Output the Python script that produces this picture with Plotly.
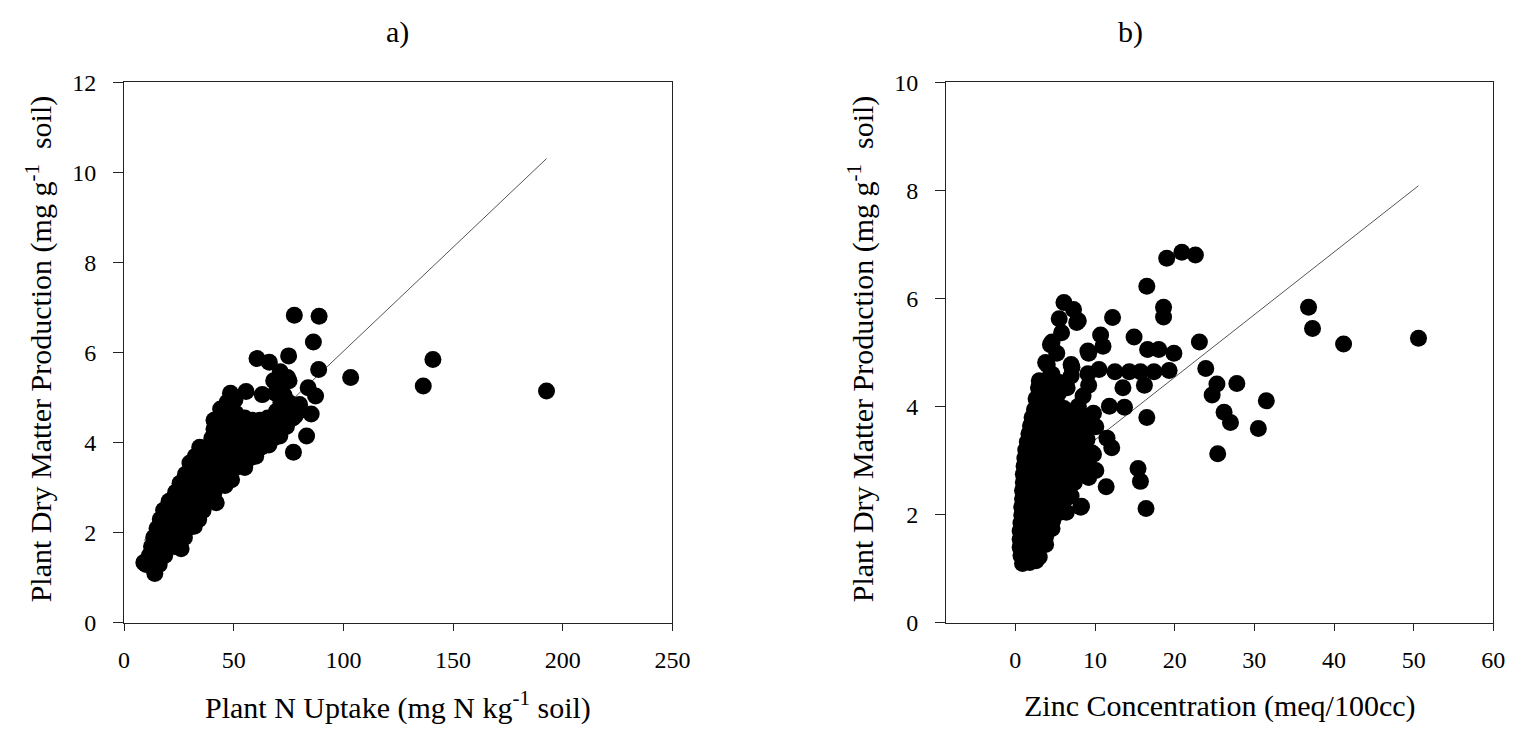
import plotly.graph_objects as go

# ---------------- Panel a: Plant N uptake vs dry matter ----------------
n_uptake = [
    14,
    10, 13, 16, 9,
    11.5, 15, 18.5,
    12.5, 16, 19.5, 23, 26,
    13.5, 17, 20.5, 24, 27.5,
    15, 18.5, 22, 25.5, 29, 32,
    16.5, 20, 23.5, 27, 30.5, 34,
    18, 21.5, 25, 28.5, 32, 36,
    20.5, 24, 27.5, 31, 34.5, 38, 42,
    23.5, 27, 30.5, 34, 37.5, 41,
    25.5, 29, 32.5, 36, 39.5, 43, 46,
    28, 31.5, 35, 38.5, 42, 45.5, 49,
    30, 33.5, 37, 40.5, 44, 47.5, 51, 55,
    32.5, 36, 39.5, 43, 46.5, 50, 53.5, 57, 60,
    34.5, 38, 41.5, 45, 48.5, 52, 55.5, 59, 62.5, 66,
    40, 43.5, 47, 50.5, 54, 57.5, 61, 64.5, 68, 71,
    41, 44.5, 48, 51.5, 55, 58.5, 62, 65.5, 69, 74,
    41, 44.5, 48, 51.5, 55, 58.5, 62, 65.5, 70, 73.5, 77,
    44, 47.5, 51, 69.5, 73, 76, 79.5,
    47, 50.5, 71.5, 75,
    48.5, 55.6, 63, 69, 73,
    60.6, 66.2, 68.2, 71.2, 75, 70, 74.5, 75.2,
    77.6, 88.9, 86.3, 88.7, 77.2, 83.2, 85.3, 87.3, 83.9, 80, 78,
    103.3, 136.4, 140.8, 192.6,
]
dm_a = [
    1.1,
    1.3, 1.3, 1.3, 1.34,
    1.5, 1.5, 1.5,
    1.7, 1.7, 1.7, 1.7, 1.65,
    1.9, 1.9, 1.9, 1.9, 1.9,
    2.1, 2.1, 2.1, 2.1, 2.1, 2.15,
    2.3, 2.3, 2.3, 2.3, 2.3, 2.3,
    2.5, 2.5, 2.5, 2.5, 2.5, 2.5,
    2.7, 2.7, 2.7, 2.7, 2.7, 2.7, 2.67,
    2.9, 2.9, 2.9, 2.9, 2.9, 2.9,
    3.1, 3.1, 3.1, 3.1, 3.1, 3.1, 3.05,
    3.3, 3.3, 3.3, 3.3, 3.3, 3.3, 3.18,
    3.55, 3.5, 3.5, 3.5, 3.5, 3.5, 3.45, 3.45,
    3.7, 3.7, 3.7, 3.7, 3.7, 3.7, 3.7, 3.65, 3.7,
    3.9, 3.9, 3.9, 3.9, 3.9, 3.9, 3.9, 3.9, 3.9, 3.95,
    4.1, 4.1, 4.1, 4.1, 4.1, 4.1, 4.1, 4.1, 4.1, 4.15,
    4.3, 4.3, 4.3, 4.3, 4.3, 4.3, 4.3, 4.3, 4.3, 4.36,
    4.5, 4.5, 4.5, 4.55, 4.55, 4.5, 4.5, 4.55, 4.5, 4.5, 4.55,
    4.75, 4.7, 4.65, 4.7, 4.7, 4.7, 4.7,
    4.9, 4.95, 4.9, 4.9,
    5.1, 5.14, 5.07, 5.1, 5.05,
    5.87, 5.79, 5.38, 5.58, 5.93, 5.25, 5.45, 5.38,
    6.83, 6.81, 6.24, 5.63, 3.79, 4.15, 4.64, 5.04, 5.22, 4.85, 4.6,
    5.45, 5.26, 5.85, 5.15,
]
fit_a_x = [9, 192.6]
fit_a_y = [1.83, 10.31]

# ---------------- Panel b: Zinc concentration vs dry matter ----------------
zinc = [
    0.9, 1.8, 2.6,
    0.7, 1.5, 2.3, 3.0,
    0.6, 1.4, 2.2, 3.0, 3.8,
    0.6, 1.4, 2.2, 3.0, 3.8,
    0.6, 1.4, 2.2, 3.0, 3.8, 4.6,
    0.7, 1.5, 2.3, 3.1, 3.9, 4.7,
    0.8, 1.6, 2.4, 3.2, 4.0, 4.8, 5.6, 6.4,
    0.8, 1.7, 2.6, 3.5, 4.4, 5.3, 8.2,
    0.9, 1.8, 2.7, 3.6, 4.5, 5.4, 6.3, 7.0,
    0.9, 1.8, 2.7, 3.6, 4.5, 5.4, 6.7,
    1.0, 1.9, 2.8, 3.7, 4.6, 5.5, 6.4, 7.4,
    1.0, 2.0, 3.0, 4.0, 5.0, 6.0, 7.6, 9.2,
    1.1, 2.1, 3.1, 4.1, 5.1, 6.1, 7.0, 8.0, 10.1,
    1.2, 2.2, 3.2, 4.2, 5.2, 6.6, 7.6, 8.6,
    1.3, 2.3, 3.3, 4.3, 5.5, 7.0, 8.2, 9.6,
    1.5, 2.5, 3.5, 4.6, 6.0, 7.9, 9.0,
    1.7, 2.7, 3.7, 4.8, 6.3, 7.2, 8.4,
    1.9, 2.9, 4.0, 5.2, 6.2, 7.0, 8.0, 9.1, 10.1,
    2.1, 3.1, 4.2, 5.5, 9.2, 8.4, 6.6,
    2.4, 3.4, 4.6, 6.1, 7.9, 9.8, 5.3,
    2.6, 3.6, 5.0, 2.9, 4.0, 3.0, 6.5, 8.5, 4.3, 5.6, 4.6, 5.4,
    4.0, 3.8, 5.2, 4.6, 4.4, 5.8, 5.5, 6.1, 7.3, 7.9, 7.7, 7.0, 7.0, 7.1,
    9.2, 9.1, 9.2, 9.1, 10.7, 11.0, 10.5, 12.2, 12.5, 11.8, 13.5, 13.7,
    14.9, 14.3, 15.7, 16.2, 16.5, 17.4, 16.6, 18.0, 19.9, 19.3,
    16.5, 18.6, 18.6, 19.0, 20.9, 22.6, 23.1, 23.9, 24.7, 25.3,
    26.2, 27.0, 25.4, 27.8, 30.5, 31.5, 36.8, 37.3, 41.2, 50.6,
    11.4, 12.1, 11.5, 15.4, 15.7, 16.4, 9.3, 9.8, 8.3,
]
dm_b = [
    1.1, 1.12, 1.15,
    1.25, 1.25, 1.25, 1.22,
    1.4, 1.4, 1.4, 1.4, 1.45,
    1.55, 1.55, 1.55, 1.55, 1.6,
    1.7, 1.7, 1.7, 1.7, 1.7, 1.75,
    1.85, 1.85, 1.85, 1.85, 1.85, 1.9,
    2.0, 2.0, 2.0, 2.0, 2.0, 2.0, 2.05, 2.05,
    2.15, 2.15, 2.15, 2.15, 2.15, 2.15, 2.14,
    2.3, 2.3, 2.3, 2.3, 2.3, 2.3, 2.3, 2.35,
    2.45, 2.45, 2.45, 2.45, 2.45, 2.45, 2.52,
    2.6, 2.6, 2.6, 2.6, 2.6, 2.6, 2.65, 2.6,
    2.75, 2.75, 2.75, 2.75, 2.75, 2.75, 2.78, 2.69,
    2.9, 2.9, 2.9, 2.9, 2.9, 2.9, 2.9, 2.95, 2.82,
    3.05, 3.05, 3.05, 3.05, 3.05, 3.05, 3.1, 3.1,
    3.2, 3.2, 3.2, 3.2, 3.2, 3.2, 3.25, 3.15,
    3.35, 3.35, 3.35, 3.35, 3.35, 3.29, 3.4,
    3.5, 3.5, 3.5, 3.5, 3.5, 3.5, 3.5,
    3.65, 3.65, 3.65, 3.65, 3.7, 3.65, 3.7, 3.65, 3.63,
    3.8, 3.8, 3.8, 3.8, 3.71, 3.85, 3.85,
    3.95, 4.01, 3.95, 3.97, 4.01, 3.88, 4.05,
    4.15, 4.2, 4.2, 4.35, 4.35, 4.48, 4.35, 4.2, 4.55, 4.45, 4.6, 4.25,
    4.78, 4.82, 4.99, 5.20, 5.15, 5.37, 5.63, 5.93, 5.80, 5.59, 5.56, 4.78, 4.57, 4.73,
    4.99, 5.03, 4.40, 4.61, 5.33, 5.12, 4.69, 5.65, 4.65, 4.01, 4.35, 3.99,
    5.29, 4.65, 4.65, 4.40, 3.80, 4.65, 5.06, 5.06, 4.99, 4.67,
    6.23, 5.84, 5.66, 6.75, 6.86, 6.81, 5.20, 4.71, 4.22, 4.42,
    3.90, 3.71, 3.13, 4.43, 3.60, 4.11, 5.84, 5.45, 5.16, 5.27,
    2.52, 3.24, 3.42, 2.86, 2.62, 2.12, 2.88, 3.12, 2.16,
]
fit_b_x = [0.6, 50.6]
fit_b_y = [2.30, 8.09]

x_ticks_a = [0, 50, 100, 150, 200, 250]
y_ticks_a = [0, 2, 4, 6, 8, 10, 12]
x_ticks_b = [0, 10, 20, 30, 40, 50, 60]
y_ticks_b = [0, 2, 4, 6, 8, 10]

W, H = 1534, 746
FONT = "Liberation Serif, Times New Roman, serif"


def px(x):
    return x / W


def py(y):
    return 1 - y / H


fig = go.Figure()
line_style = dict(color="#555555", width=1)
marker_style = dict(color="black", size=17, line=dict(width=0))

fig.add_trace(go.Scatter(x=fit_a_x, y=fit_a_y, mode="lines", line=line_style,
                         xaxis="x", yaxis="y", showlegend=False, hoverinfo="skip"))
fig.add_trace(go.Scatter(x=n_uptake, y=dm_a, mode="markers", marker=marker_style,
                         xaxis="x", yaxis="y", showlegend=False))
fig.add_trace(go.Scatter(x=fit_b_x, y=fit_b_y, mode="lines", line=line_style,
                         xaxis="x2", yaxis="y2", showlegend=False, hoverinfo="skip"))
fig.add_trace(go.Scatter(x=zinc, y=dm_b, mode="markers", marker=marker_style,
                         xaxis="x2", yaxis="y2", showlegend=False))

axis_common = dict(showline=True, linecolor="#222222", linewidth=1, mirror=True,
                   showgrid=False, zeroline=False, ticks="outside", tickcolor="#222222",
                   tickwidth=1, tickfont=dict(family=FONT, size=24, color="black"))

ydom = [py(632), py(72)]
fig.update_layout(
    width=W, height=H,
    margin=dict(l=0, r=0, t=0, b=0),
    paper_bgcolor="white", plot_bgcolor="white",
    font=dict(family=FONT, color="black"),
    xaxis=dict(domain=[px(120), px(677)], range=[0, 250], tickvals=x_ticks_a,
               ticklen=7, ticklabelstandoff=8, anchor="y", **axis_common),
    yaxis=dict(domain=ydom, range=[0, 12], tickvals=y_ticks_a,
               ticklen=10, ticklabelstandoff=12, anchor="x", **axis_common),
    xaxis2=dict(domain=[px(955), px(1511)], range=[-8.7, 60], tickvals=x_ticks_b,
                ticklen=7, ticklabelstandoff=8, anchor="y2", **axis_common),
    yaxis2=dict(domain=ydom, range=[0, 10], tickvals=y_ticks_b,
                ticklen=10, ticklabelstandoff=12, anchor="x2", **axis_common),
)

title_font = dict(family=FONT, size=30, color="black")
ann = [
    dict(text="a)", x=px(398), y=py(20)),
    dict(text="b)", x=px(1142), y=py(20)),
    dict(text="Plant N Uptake (mg N kg<sup>-1</sup> soil)", x=px(398), y=py(718)),
    dict(text="Zinc Concentration (meq/100cc)", x=px(1233), y=py(718)),
    dict(text="Plant Dry Matter Production (mg g<sup>-1</sup>&nbsp; soil)", x=px(34), y=py(348), textangle=-90),
    dict(text="Plant Dry Matter Production (mg g<sup>-1</sup>&nbsp; soil)", x=px(869), y=py(348), textangle=-90),
]
for a in ann:
    fig.add_annotation(xref="paper", yref="paper", showarrow=False,
                       xanchor="center", yanchor="middle", font=title_font, **a)

fig.write_html("out.html")
